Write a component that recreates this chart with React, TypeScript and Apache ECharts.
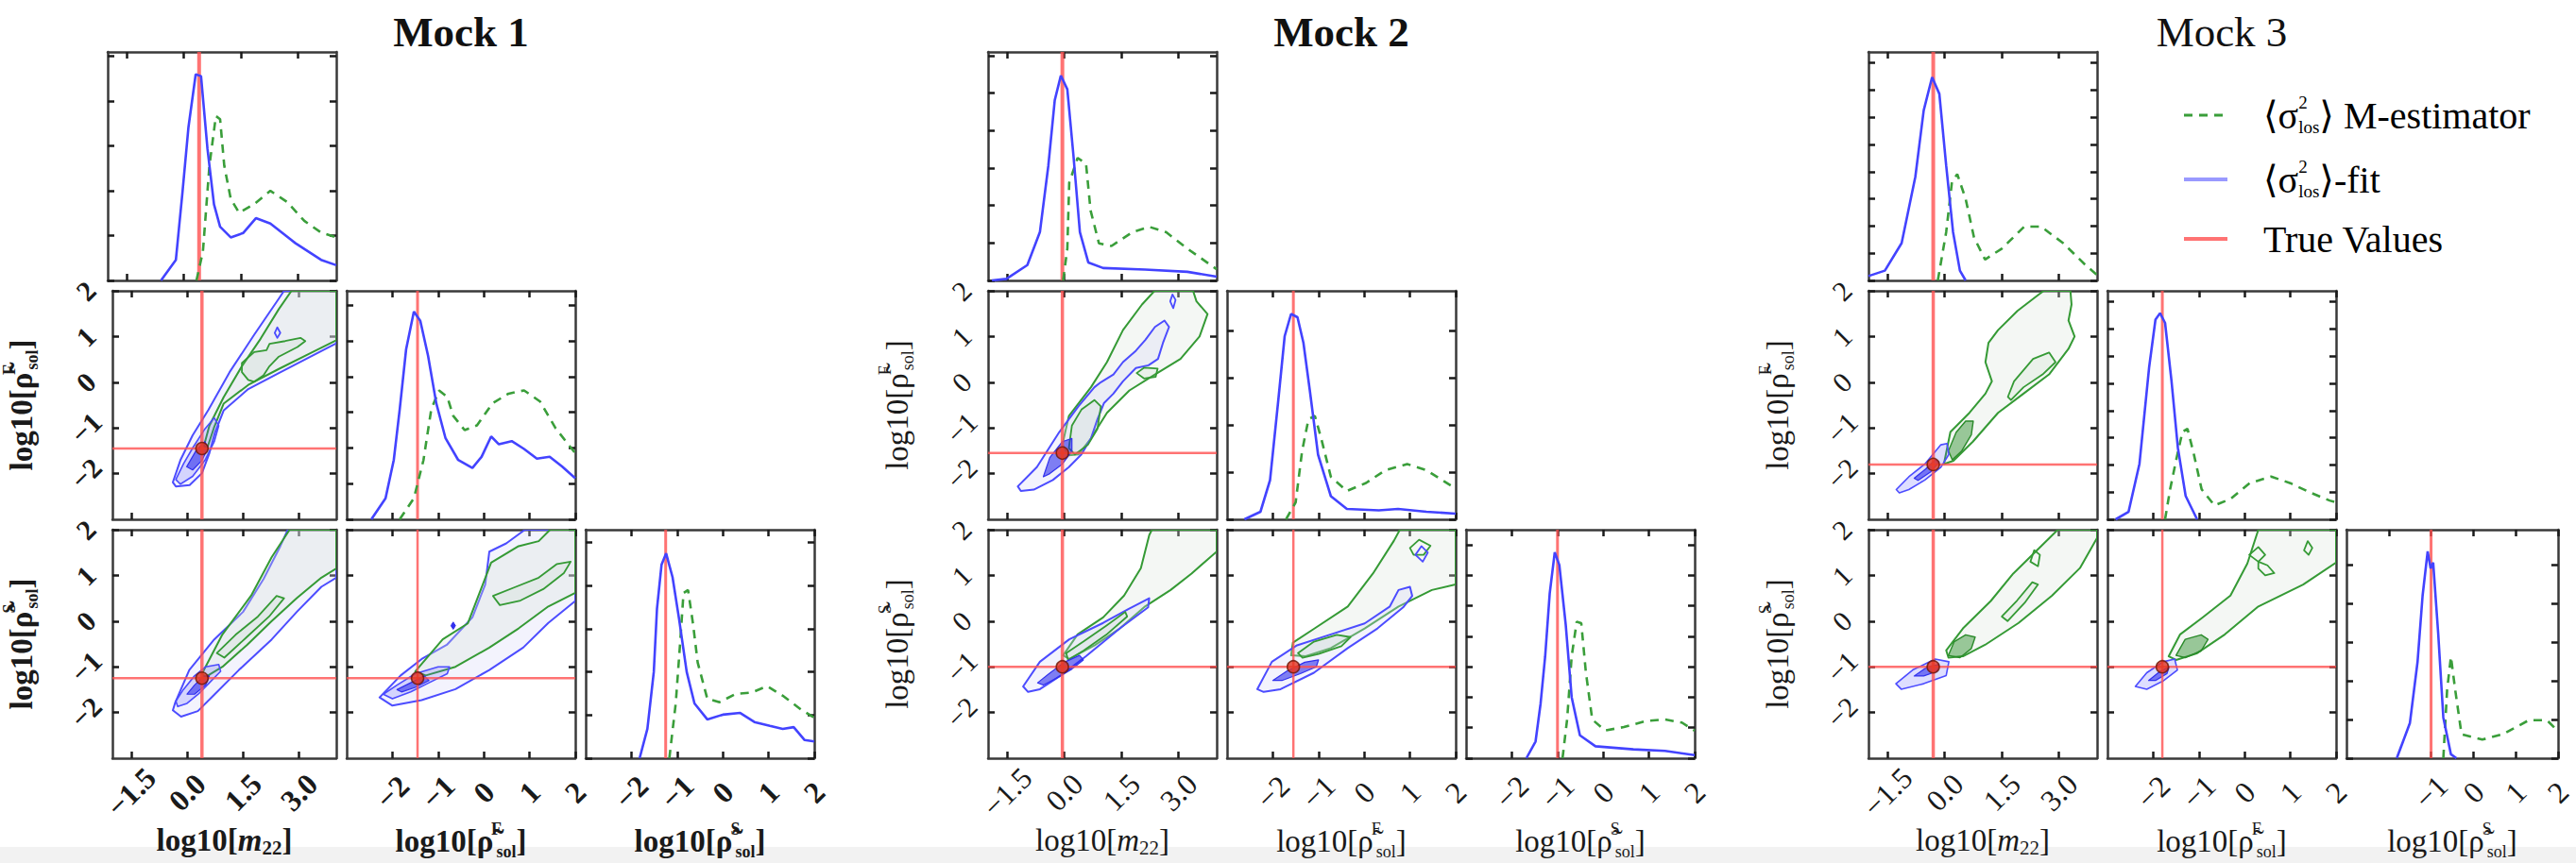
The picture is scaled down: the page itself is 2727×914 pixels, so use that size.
import React, { useEffect, useRef } from 'react';
import * as echarts from 'echarts';

// ---------------- axes, ticks, labels ----------------
const M22_RANGE = [-2, 4];
const RHO_RANGE = [-3, 2];
const M22_TICKS = [-1.5, 0, 1.5, 3.0];
const M22_TICK_LABELS = ['−1.5', '0.0', '1.5', '3.0'];
const RHO_TICKS = [-2, -1, 0, 1, 2];
const RHO_TICK_LABELS = ['−2', '−1', '0', '1', '2'];
const MOCK_TITLES = ['Mock 1', 'Mock 2', 'Mock 3'];
const LEGEND_LABELS = ['⟩ M-estimator', '⟩-fit', 'True Values'];

// ---------------- true values per mock ----------------
const TRUTH_M22 = [0.4, -0.05, -0.3];
const TRUTH_RF = [-1.45, -1.55, -1.8];
const TRUTH_RS = [-1.25, -1.0, -1.0];

// density-axis extent of each diagonal panel (tick units)
const DIAG_YMAX = [
  [5.1, 6.4, 5.3],
  [6.1, 4.84, 7.5],
  [8.4, 8.4, 5.9],
];

// ---------------- marginal distributions ----------------
const M1_D1_BLUE = [[-0.6, 0], [-0.21, 0.46], [-0.04, 1.94], [0.12, 3.42], [0.31, 4.6], [0.45, 4.56], [0.62, 2.93], [0.79, 1.7], [0.95, 1.2], [1.23, 0.96], [1.56, 1.06], [1.89, 1.39], [2.27, 1.27], [2.93, 0.83], [3.6, 0.46], [4.0, 0.34]];
const M1_D1_GREEN = [[0.33, 0], [0.5, 0.65], [0.67, 2.56], [0.84, 3.67], [0.95, 3.6], [1.06, 2.56], [1.23, 1.82], [1.45, 1.51], [1.84, 1.7], [2.27, 2.0], [2.71, 1.75], [3.16, 1.33], [3.6, 1.07], [4.0, 0.96]];
const M1_D2_BLUE = [[-2.46, 0], [-2.15, 0.59], [-1.97, 1.66], [-1.84, 3.08], [-1.7, 4.76], [-1.53, 5.82], [-1.39, 5.56], [-1.22, 4.58], [-1.04, 3.25], [-0.84, 2.28], [-0.56, 1.66], [-0.25, 1.44], [-0.05, 1.75], [0.16, 2.32], [0.33, 2.1], [0.61, 2.19], [0.88, 1.97], [1.16, 1.7], [1.44, 1.75], [1.71, 1.48], [2.0, 1.15]];
const M1_D2_GREEN = [[-1.84, 0], [-1.53, 0.59], [-1.32, 1.66], [-1.15, 3.08], [-0.98, 3.61], [-0.8, 3.43], [-0.67, 2.9], [-0.42, 2.5], [-0.15, 2.63], [0.19, 3.25], [0.54, 3.52], [0.88, 3.61], [1.23, 3.3], [1.57, 2.55], [2.0, 1.85]];
const M1_D3_BLUE = [[-1.82, 0], [-1.65, 0.68], [-1.51, 2.0], [-1.44, 3.47], [-1.34, 4.49], [-1.24, 4.75], [-1.1, 4.2], [-0.96, 3.25], [-0.79, 2.0], [-0.62, 1.27], [-0.34, 0.9], [0.0, 1.01], [0.38, 1.05], [0.69, 0.84], [1.03, 0.75], [1.31, 0.68], [1.55, 0.72], [1.79, 0.42], [2.0, 0.39]];
const M1_D3_GREEN = [[-1.17, 0], [-1.03, 1.27], [-0.93, 2.73], [-0.86, 3.83], [-0.76, 3.9], [-0.65, 3.1], [-0.55, 2.22], [-0.34, 1.38], [-0.07, 1.3], [0.28, 1.49], [0.62, 1.52], [0.97, 1.67], [1.31, 1.45], [1.72, 1.12], [2.0, 0.94]];

const M2_D1_BLUE = [[-1.9, 0], [-1.52, 0.04], [-0.97, 0.41], [-0.64, 1.29], [-0.42, 3.05], [-0.25, 4.81], [-0.09, 5.47], [0.08, 5.1], [0.24, 3.34], [0.41, 1.29], [0.63, 0.48], [1.02, 0.33], [2.12, 0.29], [3.23, 0.23], [4.0, 0.1]];
const M2_D1_GREEN = [[-0.03, 0], [0.08, 0.85], [0.13, 2.61], [0.35, 3.27], [0.57, 3.12], [0.69, 1.87], [0.91, 0.99], [1.24, 0.92], [1.79, 1.29], [2.23, 1.43], [2.67, 1.29], [3.23, 0.85], [4.0, 0.3]];
const M2_D2_BLUE = [[-2.62, 0], [-2.27, 0.16], [-2.06, 0.83], [-1.88, 2.52], [-1.74, 3.88], [-1.6, 4.35], [-1.46, 4.28], [-1.33, 3.74], [-1.19, 2.73], [-1.01, 1.37], [-0.73, 0.49], [-0.38, 0.22], [0.32, 0.19], [0.74, 0.22], [1.36, 0.16], [2.0, 0.12]];
const M2_D2_GREEN = [[-1.71, 0], [-1.5, 0.36], [-1.36, 1.44], [-1.22, 2.12], [-1.08, 2.19], [-0.94, 1.71], [-0.73, 0.9], [-0.38, 0.6], [0.04, 0.77], [0.46, 1.04], [0.94, 1.17], [1.36, 1.04], [2.0, 0.65]];
const M2_D3_BLUE = [[-1.68, 0], [-1.48, 0.55], [-1.37, 1.79], [-1.27, 3.34], [-1.17, 5.41], [-1.06, 6.76], [-0.96, 6.34], [-0.82, 4.38], [-0.69, 2.0], [-0.51, 0.75], [-0.17, 0.39], [0.66, 0.29], [1.35, 0.24], [2.0, 0.1]];
const M2_D3_GREEN = [[-0.89, 0], [-0.79, 1.27], [-0.69, 3.34], [-0.58, 4.48], [-0.48, 4.43], [-0.38, 2.83], [-0.24, 1.27], [0.04, 0.91], [0.45, 1.02], [0.93, 1.22], [1.35, 1.27], [1.72, 1.17], [2.0, 0.9]];

const M3_D1_BLUE = [[-2.0, 0.16], [-1.57, 0.36], [-1.13, 1.37], [-0.77, 3.81], [-0.55, 6.25], [-0.33, 7.47], [-0.14, 6.86], [0.04, 4.22], [0.22, 1.78], [0.4, 0.36], [0.55, 0]];
const M3_D1_GREEN = [[-0.18, 0], [0.04, 1.78], [0.19, 3.61], [0.33, 3.91], [0.55, 3.0], [0.77, 1.58], [1.06, 0.77], [1.5, 1.17], [2.09, 1.98], [2.53, 1.98], [3.11, 1.37], [3.7, 0.56], [4.0, 0.2]];
const M3_D2_BLUE = [[-2.82, 0], [-2.54, 0.27], [-2.3, 2.04], [-2.09, 5.57], [-1.95, 7.34], [-1.85, 7.58], [-1.74, 7.22], [-1.6, 5.1], [-1.46, 2.63], [-1.29, 0.86], [-1.04, 0]];
const M3_D2_GREEN = [[-1.74, 0], [-1.63, 1.1], [-1.5, 2.16], [-1.36, 3.22], [-1.25, 3.33], [-1.11, 2.39], [-0.94, 1.1], [-0.66, 0.51], [-0.31, 0.75], [0.11, 1.33], [0.58, 1.57], [1.0, 1.33], [1.44, 0.98], [1.86, 0.69], [2.0, 0.62]];
const M3_D3_BLUE = [[-1.81, 0], [-1.5, 0.91], [-1.32, 2.48], [-1.2, 4.2], [-1.08, 5.34], [-1.01, 4.9], [-0.95, 5.05], [-0.83, 3.2], [-0.71, 1.05], [-0.53, 0.1], [-0.4, 0]];
const M3_D3_GREEN = [[-0.71, 0], [-0.62, 1.77], [-0.53, 2.62], [-0.43, 1.77], [-0.28, 0.62], [0.21, 0.48], [0.7, 0.62], [1.31, 0.98], [1.74, 0.98], [2.0, 0.7]];

// ---------------- 2D contours (A: m22-rhoF, B: m22-rhoS, C: rhoF-rhoS) ----------------
const M1_A_BLUE_OUT = [[-0.38, -2.19], [-0.18, -1.71], [0.15, -1.16], [0.57, -0.61], [1.14, 0.22], [1.8, 1.04], [2.46, 1.83], [2.6, 2.0], [4.0, 2.0], [4.0, 0.85], [3.29, 0.55], [2.46, 0.2], [1.64, -0.15], [0.98, -0.62], [0.75, -1.1], [0.6, -1.55], [0.4, -1.99], [0.07, -2.25], [-0.3, -2.28]];
const M1_A_GREEN_OUT = [[0.45, -1.4], [0.6, -0.95], [0.98, -0.33], [1.47, 0.35], [1.97, 0.95], [2.46, 1.6], [2.8, 2.0], [4.0, 2.0], [4.0, 0.92], [3.29, 0.63], [2.46, 0.29], [1.64, -0.06], [0.98, -0.47], [0.72, -1.0], [0.55, -1.42]];
const M1_A_GREEN_IN = [[1.47, 0.42], [1.8, 0.66], [2.13, 0.7], [2.21, 0.84], [2.63, 0.9], [3.04, 0.97], [3.17, 0.9], [2.96, 0.77], [2.46, 0.56], [2.21, 0.35], [2.05, 0.15], [1.8, 0.01], [1.64, 0.05], [1.47, 0.22]];
const M1_A_BLUE_IN = [[-0.3, -2.13], [-0.09, -1.78], [0.15, -1.44], [0.48, -1.02], [0.73, -0.78], [0.85, -0.95], [0.73, -1.3], [0.48, -1.71], [0.15, -2.06], [-0.18, -2.23]];
const M1_A_BLUE_CORE = [[-0.01, -1.85], [0.24, -1.5], [0.48, -1.3], [0.56, -1.44], [0.4, -1.71], [0.15, -1.92]];
const M1_A_BLUE_DOT = [[2.35, 1.08], [2.42, 1.2], [2.5, 1.08], [2.42, 0.97]];

const M1_B_BLUE_OUT = [[-0.38, -1.95], [-0.32, -1.79], [0.06, -1.07], [0.73, -0.4], [1.5, 0.2], [2.05, 0.92], [2.5, 1.64], [2.7, 2.0], [4.0, 2.0], [4.0, 0.95], [3.6, 0.75], [2.94, 0.2], [2.27, -0.4], [1.39, -1.07], [0.73, -1.61], [0.29, -1.97], [-0.16, -2.09]];
const M1_B_GREEN_OUT = [[0.4, -1.15], [0.95, -0.29], [1.72, 0.56], [2.27, 1.4], [2.75, 2.0], [4.0, 2.0], [4.0, 1.15], [3.6, 0.95], [2.94, 0.5], [2.27, 0.0], [1.61, -0.52], [0.95, -1.0], [0.5, -1.22]];
const M1_B_GREEN_IN = [[0.8, -0.7], [1.3, -0.3], [1.9, 0.1], [2.4, 0.55], [2.6, 0.5], [2.2, 0.1], [1.6, -0.35], [1.0, -0.8]];
const M1_B_BLUE_IN = [[-0.3, -1.75], [-0.1, -1.5], [0.2, -1.2], [0.5, -1.0], [0.85, -0.95], [0.9, -1.1], [0.6, -1.35], [0.3, -1.6], [0.0, -1.8], [-0.25, -1.87]];
const M1_B_BLUE_CORE = [[0.0, -1.6], [0.2, -1.4], [0.45, -1.2], [0.6, -1.2], [0.5, -1.4], [0.2, -1.6]];

const M1_C_BLUE_OUT = [[-2.28, -1.67], [-1.82, -1.19], [-1.36, -0.83], [-0.81, -0.52], [-0.25, 0.08], [0.03, 0.8], [0.12, 1.52], [0.49, 1.7], [0.9, 2.0], [2.0, 2.0], [2.0, 0.44], [1.41, -0.04], [0.86, -0.58], [0.12, -1.07], [-0.62, -1.49], [-1.36, -1.73], [-2.0, -1.85]];
const M1_C_GREEN_OUT = [[-1.5, -1.1], [-0.9, -0.4], [-0.35, -0.05], [-0.07, 0.68], [0.16, 1.28], [0.76, 1.64], [1.2, 1.75], [1.45, 2.0], [2.0, 2.0], [2.0, 0.62], [1.41, 0.32], [0.76, -0.16], [0.12, -0.58], [-0.62, -1.0], [-1.27, -1.19]];
const M1_C_GREEN_IN = [[0.2, 0.55], [0.7, 0.75], [1.2, 0.95], [1.6, 1.25], [1.9, 1.3], [1.75, 1.05], [1.3, 0.7], [0.8, 0.45], [0.35, 0.35]];
const M1_C_BLUE_IN = [[-2.2, -1.6], [-1.9, -1.4], [-1.5, -1.15], [-1.0, -1.0], [-0.75, -1.0], [-0.8, -1.15], [-1.2, -1.35], [-1.6, -1.55], [-2.0, -1.7]];
const M1_C_BLUE_CORE = [[-1.9, -1.5], [-1.6, -1.35], [-1.3, -1.2], [-1.2, -1.3], [-1.5, -1.45], [-1.8, -1.55]];
const M1_C_BLUE_DOT = [[-0.72, -0.1], [-0.67, -0.02], [-0.62, -0.1], [-0.67, -0.18]];

const M2_A_BLUE_OUT = [[-1.22, -2.28], [-0.72, -1.86], [-0.13, -1.09], [0.37, -0.53], [0.79, -0.11], [0.96, 0.0], [1.29, 0.17], [1.54, 0.44], [1.88, 0.69], [2.13, 0.93], [2.38, 1.21], [2.63, 1.35], [2.75, 1.21], [2.59, 0.86], [2.46, 0.51], [2.21, 0.37], [1.88, 0.31], [1.54, 0.02], [1.29, -0.25], [1.04, -0.46], [0.87, -0.81], [0.7, -1.23], [0.45, -1.58], [0.12, -1.86], [-0.3, -2.14], [-0.8, -2.35], [-1.14, -2.38]];
const M2_A_GREEN_OUT = [[-0.05, -1.37], [0.12, -0.74], [0.7, -0.11], [1.12, 0.44], [1.54, 1.14], [2.04, 1.7], [2.37, 2.0], [3.38, 2.0], [3.47, 1.77], [3.76, 1.49], [3.55, 1.0], [3.05, 0.51], [2.38, 0.17], [1.71, -0.18], [1.12, -0.67], [0.7, -1.23], [0.37, -1.58], [0.12, -1.6]];
const M2_A_GREEN_IN = [[0.12, -1.44], [0.2, -0.95], [0.45, -0.6], [0.79, -0.39], [0.96, -0.53], [0.87, -1.02], [0.62, -1.37], [0.28, -1.58]];
const M2_A_GREEN_IN2 = [[1.9, 0.2], [2.1, 0.32], [2.45, 0.3], [2.4, 0.12], [2.1, 0.08]];
const M2_A_BLUE_CORE = [[-0.55, -2.07], [-0.38, -1.65], [-0.05, -1.3], [0.2, -1.23], [0.2, -1.51], [-0.05, -1.79], [-0.38, -2.0]];
const M2_A_BLUE_LOOP = [[2.78, 1.77], [2.84, 1.92], [2.92, 1.8], [2.86, 1.62]];

const M2_B_BLUE_OUT = [[-1.08, -1.43], [-0.64, -0.89], [0.13, -0.4], [1.02, -0.04], [1.68, 0.26], [2.23, 0.5], [2.2, 0.3], [1.46, -0.16], [0.57, -0.77], [-0.09, -1.19], [-0.64, -1.49], [-0.95, -1.55]];
const M2_B_GREEN_OUT = [[-0.03, -0.75], [0.35, -0.29], [1.02, 0.08], [1.57, 0.56], [2.01, 1.16], [2.23, 1.88], [2.3, 2.0], [4.0, 2.0], [4.0, 1.52], [3.34, 1.04], [2.79, 0.68], [2.12, 0.32], [1.46, -0.16], [0.8, -0.53], [0.13, -0.83]];
const M2_B_GREEN_IN = [[0.05, -0.7], [0.5, -0.45], [1.1, -0.1], [1.6, 0.2], [1.65, 0.1], [1.1, -0.3], [0.5, -0.65], [0.1, -0.85]];
const M2_B_BLUE_CORE = [[-0.7, -1.35], [-0.4, -1.15], [0.0, -0.9], [0.4, -0.75], [0.5, -0.85], [0.2, -1.05], [-0.2, -1.25], [-0.55, -1.4]];

const M2_C_BLUE_OUT = [[-2.34, -1.49], [-2.02, -0.89], [-1.47, -0.53], [-0.73, -0.29], [0.01, -0.05], [0.56, 0.32], [0.75, 0.68], [1.0, 0.75], [1.05, 0.55], [0.85, 0.3], [0.29, -0.16], [-0.36, -0.59], [-1.1, -1.13], [-1.83, -1.49], [-2.2, -1.55]];
const M2_C_GREEN_OUT = [[-1.6, -0.75], [-1.56, -0.47], [-1.1, -0.17], [-0.36, 0.32], [0.19, 1.04], [0.65, 1.76], [0.78, 2.0], [2.0, 2.0], [2.0, 0.8], [1.48, 0.68], [0.75, 0.32], [0.01, -0.16], [-0.73, -0.59], [-1.28, -0.77]];
const M2_C_GREEN_IN = [[-1.45, -0.7], [-1.1, -0.45], [-0.6, -0.3], [-0.3, -0.35], [-0.5, -0.55], [-1.0, -0.72], [-1.35, -0.8]];
const M2_C_GREEN_LOOP = [[1.0, 1.6], [1.2, 1.78], [1.45, 1.65], [1.3, 1.45], [1.08, 1.45]];
const M2_C_BLUE_CORE = [[-2.0, -1.3], [-1.7, -1.1], [-1.3, -0.9], [-1.0, -0.85], [-1.05, -1.0], [-1.4, -1.15], [-1.8, -1.3]];
const M2_C_BLUE_LOOP = [[1.12, 1.45], [1.25, 1.64], [1.39, 1.5], [1.28, 1.3]];

const M3_A_GREEN_OUT = [[-0.02, -1.79], [0.15, -1.09], [0.65, -0.67], [1.07, -0.25], [1.24, 0.02], [1.07, 0.44], [1.15, 0.86], [1.4, 1.14], [1.91, 1.56], [2.41, 1.88], [2.6, 2.0], [3.3, 2.0], [3.33, 1.7], [3.25, 1.35], [3.41, 1.0], [3.25, 0.73], [2.74, 0.17], [2.07, -0.25], [1.4, -0.67], [0.74, -1.3], [0.23, -1.72]];
const M3_A_GREEN_IN = [[1.66, -0.32], [1.82, 0.02], [2.32, 0.51], [2.74, 0.65], [2.91, 0.44], [2.57, 0.17], [2.07, -0.11], [1.74, -0.39]];
const M3_A_GREEN_CORE = [[0.1, -1.5], [0.3, -1.1], [0.55, -0.85], [0.75, -0.85], [0.7, -1.15], [0.45, -1.5], [0.2, -1.7]];
const M3_A_BLUE_OUT = [[-1.27, -2.35], [-0.94, -2.07], [-0.52, -1.79], [-0.1, -1.37], [0.06, -1.34], [0.11, -1.58], [-0.1, -1.86], [-0.52, -2.14], [-0.94, -2.35], [-1.19, -2.42]];
const M3_A_BLUE_CORE = [[-0.8, -2.1], [-0.5, -1.9], [-0.25, -1.7], [-0.15, -1.75], [-0.35, -1.95], [-0.7, -2.15]];

const M3_B_GREEN_OUT = [[0.04, -0.64], [0.48, -0.16], [1.21, 0.44], [1.8, 1.04], [2.53, 1.64], [2.97, 2.0], [4.0, 2.0], [4.0, 1.82], [3.55, 1.16], [2.82, 0.56], [1.94, -0.04], [1.06, -0.52], [0.48, -0.77], [0.1, -0.8]];
const M3_B_GREEN_IN = [[1.5, 0.1], [1.9, 0.45], [2.3, 0.85], [2.45, 0.8], [2.1, 0.4], [1.65, 0.0]];
const M3_B_GREEN_LOOP = [[2.25, 1.3], [2.35, 1.55], [2.5, 1.45], [2.45, 1.2]];
const M3_B_GREEN_CORE = [[0.1, -0.75], [0.25, -0.45], [0.55, -0.3], [0.8, -0.35], [0.7, -0.6], [0.4, -0.8]];
const M3_B_BLUE_OUT = [[-1.28, -1.37], [-0.84, -1.07], [-0.25, -0.83], [0.11, -0.89], [0.04, -1.19], [-0.55, -1.37], [-1.14, -1.49]];
const M3_B_BLUE_CORE = [[-0.8, -1.2], [-0.45, -1.0], [-0.15, -0.95], [-0.2, -1.1], [-0.55, -1.2]];

const M3_C_GREEN_OUT = [[-1.66, -0.77], [-1.41, -0.29], [-0.92, 0.08], [-0.31, 0.56], [0.06, 1.26], [0.3, 2.0], [2.0, 2.0], [2.0, 1.28], [1.28, 0.8], [0.3, 0.32], [-0.43, -0.29], [-1.05, -0.71], [-1.5, -0.85]];
const M3_C_GREEN_LOOP1 = [[0.1, 1.45], [0.3, 1.62], [0.45, 1.45], [0.3, 1.3]];
const M3_C_GREEN_LOOP2 = [[0.3, 1.3], [0.5, 1.22], [0.65, 1.05], [0.45, 1.0], [0.3, 1.15]];
const M3_C_GREEN_LOOP3 = [[1.3, 1.55], [1.38, 1.75], [1.48, 1.6], [1.4, 1.45]];
const M3_C_GREEN_CORE = [[-1.5, -0.75], [-1.3, -0.4], [-0.95, -0.3], [-0.8, -0.4], [-0.95, -0.65], [-1.3, -0.8]];
const M3_C_BLUE_OUT = [[-2.39, -1.43], [-2.14, -1.13], [-1.78, -0.89], [-1.53, -0.83], [-1.47, -1.07], [-1.78, -1.31], [-2.14, -1.49]];
const M3_C_BLUE_CORE = [[-2.1, -1.3], [-1.85, -1.1], [-1.65, -1.0], [-1.7, -1.15], [-1.95, -1.3]];

// ---------------- grouping (built from the arrays above) ----------------
const MARG_BLUE = [
  [M1_D1_BLUE, M1_D2_BLUE, M1_D3_BLUE],
  [M2_D1_BLUE, M2_D2_BLUE, M2_D3_BLUE],
  [M3_D1_BLUE, M3_D2_BLUE, M3_D3_BLUE],
];
const MARG_GREEN = [
  [M1_D1_GREEN, M1_D2_GREEN, M1_D3_GREEN],
  [M2_D1_GREEN, M2_D2_GREEN, M2_D3_GREEN],
  [M3_D1_GREEN, M3_D2_GREEN, M3_D3_GREEN],
];
const CONTOURS: any[] = [
  {
    A: [[M1_A_BLUE_OUT, 'blueOut'], [M1_A_GREEN_OUT, 'greenOut'], [M1_A_GREEN_IN, 'greenIn'], [M1_A_BLUE_IN, 'blueIn'], [M1_A_BLUE_CORE, 'blueCore'], [M1_A_BLUE_DOT, 'blueLine']],
    B: [[M1_B_BLUE_OUT, 'blueOut'], [M1_B_GREEN_OUT, 'greenOut'], [M1_B_GREEN_IN, 'greenIn'], [M1_B_BLUE_IN, 'blueIn'], [M1_B_BLUE_CORE, 'blueCore']],
    C: [[M1_C_BLUE_OUT, 'blueOut'], [M1_C_GREEN_OUT, 'greenOut'], [M1_C_GREEN_IN, 'greenIn'], [M1_C_BLUE_IN, 'blueIn'], [M1_C_BLUE_CORE, 'blueCore'], [M1_C_BLUE_DOT, 'blueDot']],
  },
  {
    A: [[M2_A_GREEN_OUT, 'greenOut'], [M2_A_BLUE_OUT, 'blueOut'], [M2_A_GREEN_IN, 'greenIn'], [M2_A_GREEN_IN2, 'greenIn'], [M2_A_BLUE_CORE, 'blueCore'], [M2_A_BLUE_LOOP, 'blueLine']],
    B: [[M2_B_GREEN_OUT, 'greenOut'], [M2_B_BLUE_OUT, 'blueOut'], [M2_B_GREEN_IN, 'greenIn'], [M2_B_BLUE_CORE, 'blueCore']],
    C: [[M2_C_GREEN_OUT, 'greenOut'], [M2_C_BLUE_OUT, 'blueOut'], [M2_C_GREEN_IN, 'greenIn'], [M2_C_GREEN_LOOP, 'greenLine'], [M2_C_BLUE_LOOP, 'blueLine'], [M2_C_BLUE_CORE, 'blueCore']],
  },
  {
    A: [[M3_A_GREEN_OUT, 'greenOut'], [M3_A_GREEN_IN, 'greenIn'], [M3_A_GREEN_CORE, 'greenCore'], [M3_A_BLUE_OUT, 'blueIn'], [M3_A_BLUE_CORE, 'blueCore']],
    B: [[M3_B_GREEN_OUT, 'greenOut'], [M3_B_GREEN_IN, 'greenIn'], [M3_B_GREEN_LOOP, 'greenLine'], [M3_B_GREEN_CORE, 'greenCore'], [M3_B_BLUE_OUT, 'blueIn'], [M3_B_BLUE_CORE, 'blueCore']],
    C: [[M3_C_GREEN_OUT, 'greenOut'], [M3_C_GREEN_LOOP1, 'greenLine'], [M3_C_GREEN_LOOP2, 'greenLine'], [M3_C_GREEN_LOOP3, 'greenLine'], [M3_C_GREEN_CORE, 'greenCore'], [M3_C_BLUE_OUT, 'blueIn'], [M3_C_BLUE_CORE, 'blueCore']],
  },
];

// ---------------- styling & layout ----------------
const SERIF = '"Liberation Serif", "DejaVu Serif", serif';
const BLUE = '#4343ff';
const GREEN = '#3a9e3a';
const RED = 'rgba(255,80,80,0.8)';
const FRAME = { color: '#3a3a3a', width: 2.5 };
const TICK = { color: '#1a1a1a', width: 2.5 };
const STY: any = {
  blueOut: { fill: 'rgba(215,215,248,0.30)', stroke: '#4c4cff', lineWidth: 2 },
  greenOut: { fill: 'rgba(220,230,220,0.30)', stroke: '#359a35', lineWidth: 2 },
  greenIn: { fill: 'rgba(150,195,150,0.10)', stroke: '#359a35', lineWidth: 1.8 },
  blueIn: { fill: 'rgba(90,90,255,0.20)', stroke: '#4c4cff', lineWidth: 1.6 },
  blueCore: { fill: 'rgba(30,30,235,0.55)', stroke: '#3030ee', lineWidth: 1.2 },
  greenCore: { fill: 'rgba(40,140,40,0.45)', stroke: '#2a8a2a', lineWidth: 1.4 },
  blueLine: { fill: 'none', stroke: '#4c4cff', lineWidth: 1.8 },
  greenLine: { fill: 'none', stroke: '#359a35', lineWidth: 1.8 },
  blueDot: { fill: '#3030ee', stroke: '#3030ee', lineWidth: 1 },
};
const MOCK_X0 = [114, 1046, 1978];
const PITCH = 253;
const TOP0 = 55;
const PANEL = 242;

const AXIS_NAMES = [
  '{n|log10[}{i|m}{s|22}{n|]}',
  '{n|log10[}{g|ρ̃}{sp|F}{sb|sol}{n|]}',
  '{n|log10[}{g|ρ̃}{sp|S}{sb|sol}{n|]}',
];

function nameRich(bold: boolean) {
  const fw = bold ? 'bold' : 'normal';
  return {
    n: { fontFamily: SERIF, fontSize: 33, fontWeight: fw, color: '#1a1a1a' },
    g: { fontFamily: SERIF, fontSize: 33, fontWeight: fw, color: '#1a1a1a', padding: [0, 3, 0, 0] },
    i: { fontFamily: SERIF, fontSize: 33, fontStyle: 'italic', fontWeight: fw, color: '#1a1a1a' },
    s: { fontFamily: SERIF, fontSize: 21, fontWeight: fw, color: '#1a1a1a', padding: [16, 0, 0, 0] },
    sp: { fontFamily: SERIF, fontSize: 18, fontWeight: fw, color: '#1a1a1a', width: 0, padding: [0, 0, 26, 0] },
    sb: { fontFamily: SERIF, fontSize: 18, fontWeight: fw, color: '#1a1a1a', padding: [22, 0, 0, 0] },
  };
}

function fmt(ticks: number[], labels: string[]) {
  return (v: number) => {
    const i = ticks.findIndex((t) => Math.abs(t - v) < 1e-6);
    return i >= 0 ? labels[i] : '';
  };
}

function intTicks(max: number) {
  const out: number[] = [];
  for (let k = 0; k <= Math.floor(max); k++) out.push(k);
  return out;
}

function polySeries(pts: number[][], xi: number, yi: number, sty: any) {
  return {
    type: 'custom',
    coordinateSystem: 'cartesian2d',
    xAxisIndex: xi,
    yAxisIndex: yi,
    data: [pts[0]],
    clip: true,
    silent: true,
    renderItem: (_p: any, api: any) => ({
      type: 'polygon',
      shape: { points: pts.map((p) => api.coord(p)) },
      style: { fill: sty.fill, stroke: sty.stroke, lineWidth: sty.lineWidth, lineJoin: 'round' },
    }),
  };
}

function lineSeries(pts: number[][], xi: number, yi: number, color: string, width: number, type: any) {
  return {
    type: 'line',
    xAxisIndex: xi,
    yAxisIndex: yi,
    data: pts,
    showSymbol: false,
    symbol: 'none',
    silent: true,
    lineStyle: { color, width, type },
  };
}

function buildOption() {
  const grid: any[] = [];
  const xAxis: any[] = [];
  const yAxis: any[] = [];
  const series: any[] = [];
  const graphic: any[] = [];
  const ranges = [M22_RANGE, RHO_RANGE, RHO_RANGE];
  const ticks = [M22_TICKS, RHO_TICKS, RHO_TICKS];
  const tickLabels = [M22_TICK_LABELS, RHO_TICK_LABELS, RHO_TICK_LABELS];
  const truths = [TRUTH_M22, TRUTH_RF, TRUTH_RS];

  for (let m = 0; m < 3; m++) {
    const bold = m === 0;
    const fw = bold ? 'bold' : 'normal';
    for (let r = 0; r < 3; r++) {
      for (let c = 0; c <= r; c++) {
        const gi = grid.length;
        const left = MOCK_X0[m] + c * PITCH;
        const top = TOP0 + r * PITCH;
        grid.push({ left, top, width: PANEL, height: PANEL });
        const diag = r === c;
        const xr = ranges[c];
        const yr = diag ? [0, DIAG_YMAX[m][c]] : ranges[r];
        const yt = diag ? intTicks(DIAG_YMAX[m][c]) : ticks[r];

        const xi = xAxis.length;
        xAxis.push({
          gridIndex: gi, type: 'value', position: 'bottom', min: xr[0], max: xr[1],
          axisLine: { show: true, onZero: false, lineStyle: FRAME },
          axisTick: { show: true, inside: true, length: 7, lineStyle: TICK, customValues: ticks[c] },
          axisLabel: {
            show: r === 2, customValues: ticks[c], formatter: fmt(ticks[c], tickLabels[c]),
            rotate: 45, align: 'center', verticalAlign: 'middle', margin: 36,
            fontFamily: SERIF, fontSize: 32, color: '#1a1a1a', fontWeight: fw,
          },
          splitLine: { show: false },
          name: r === 2 ? AXIS_NAMES[c] : '',
          nameLocation: 'middle', nameGap: 66,
          nameTextStyle: { rich: nameRich(bold) },
        });
        xAxis.push({
          gridIndex: gi, type: 'value', position: 'top', min: xr[0], max: xr[1],
          axisLine: { show: true, onZero: false, lineStyle: FRAME },
          axisTick: { show: true, inside: true, length: 7, lineStyle: TICK, customValues: ticks[c] },
          axisLabel: { show: false },
          splitLine: { show: false },
        });
        const yi = yAxis.length;
        const showY = !diag && c === 0;
        yAxis.push({
          gridIndex: gi, type: 'value', position: 'left', min: yr[0], max: yr[1],
          axisLine: { show: true, onZero: false, lineStyle: FRAME },
          axisTick: { show: true, inside: true, length: 7, lineStyle: TICK, customValues: yt },
          axisLabel: {
            show: showY, customValues: diag ? yt : ticks[r], formatter: diag ? '' : fmt(ticks[r], tickLabels[r]),
            rotate: 45, align: 'center', verticalAlign: 'middle', margin: 28,
            fontFamily: SERIF, fontSize: 30, color: '#1a1a1a', fontWeight: fw,
          },
          splitLine: { show: false },
          name: showY ? AXIS_NAMES[r] : '',
          nameLocation: 'middle', nameRotate: 90, nameGap: 74,
          nameTextStyle: { rich: nameRich(bold) },
        });
        yAxis.push({
          gridIndex: gi, type: 'value', position: 'right', min: yr[0], max: yr[1],
          axisLine: { show: true, onZero: false, lineStyle: FRAME },
          axisTick: { show: true, inside: true, length: 7, lineStyle: TICK, customValues: yt },
          axisLabel: { show: false },
          splitLine: { show: false },
        });

        if (diag) {
          const t = truths[c][m];
          series.push(lineSeries([[t, 0], [t, yr[1]]], xi, yi, RED, c === 0 ? 4 : 3, 'solid'));
          series.push(lineSeries(MARG_GREEN[m][c], xi, yi, GREEN, 2.6, [9, 7]));
          series.push(lineSeries(MARG_BLUE[m][c], xi, yi, BLUE, 2.6, 'solid'));
        } else {
          const key = r === 1 ? 'A' : c === 0 ? 'B' : 'C';
          for (const [pts, sk] of CONTOURS[m][key]) series.push(polySeries(pts, xi, yi, STY[sk]));
          const tx = truths[c][m];
          const ty = truths[r][m];
          series.push(lineSeries([[tx, yr[0]], [tx, yr[1]]], xi, yi, RED, c === 0 ? 3.5 : 2.5, 'solid'));
          series.push(lineSeries([[xr[0], ty], [xr[1], ty]], xi, yi, RED, 2.5, 'solid'));
          series.push({
            type: 'scatter', xAxisIndex: xi, yAxisIndex: yi, data: [[tx, ty]], symbol: 'circle', symbolSize: 13,
            silent: true, z: 5,
            itemStyle: { color: '#e3341f', borderColor: '#6a1606', borderWidth: 1.5 },
          });
        }
      }
    }
    // mock title, centred over the second column
    graphic.push({
      type: 'text', x: MOCK_X0[m] + PITCH + PANEL / 2, y: 34,
      style: {
        text: MOCK_TITLES[m], fill: '#111', font: `${m < 2 ? 'bold ' : ''}45px ${SERIF}`,
        align: 'center', verticalAlign: 'middle',
      },
    });
  }

  // legend (top right of Mock 3)
  const legRich = {
    a: { fontFamily: SERIF, fontSize: 40, color: '#111' },
    sp: { fontFamily: SERIF, fontSize: 19, color: '#111', width: 0, padding: [0, 0, 28, 0] },
    sb: { fontFamily: SERIF, fontSize: 19, color: '#111', padding: [24, 0, 0, 0] },
  };
  const legY = [122, 190, 253];
  const legColors = [GREEN, 'rgba(110,110,255,0.7)', 'rgba(255,90,90,0.85)'];
  const legTexts = [
    `{a|⟨σ}{sp|2}{sb|los}{a|${LEGEND_LABELS[0]}}`,
    `{a|⟨σ}{sp|2}{sb|los}{a|${LEGEND_LABELS[1]}}`,
    `{a|${LEGEND_LABELS[2]}}`,
  ];
  for (let k = 0; k < 3; k++) {
    graphic.push({
      type: 'line',
      shape: { x1: 2312, y1: legY[k], x2: 2358, y2: legY[k] },
      style: { stroke: legColors[k], lineWidth: k === 0 ? 3 : 4, lineDash: k === 0 ? [9, 7] : null },
    });
    graphic.push({
      type: 'text', x: 2396, y: legY[k],
      style: { text: legTexts[k], rich: legRich, align: 'left', verticalAlign: 'middle' },
    });
  }
  graphic.push({
    type: 'rect', z: -10, shape: { x: 0, y: 897, width: 2727, height: 17 },
    style: { fill: '#f2f2f2' },
  });

  return { animation: false, backgroundColor: '#ffffff', grid, xAxis, yAxis, series, graphic };
}

export default function App() {
  const ref = useRef<HTMLDivElement>(null);
  useEffect(() => {
    const chart = echarts.init(ref.current as HTMLDivElement, null, { renderer: 'svg' });
    chart.setOption(buildOption() as any);
    return () => chart.dispose();
  }, []);
  return (
    <div
      ref={ref}
      style={{ position: 'fixed', left: 0, top: 0, width: 2727, height: 914, background: '#fff' }}
    />
  );
}
